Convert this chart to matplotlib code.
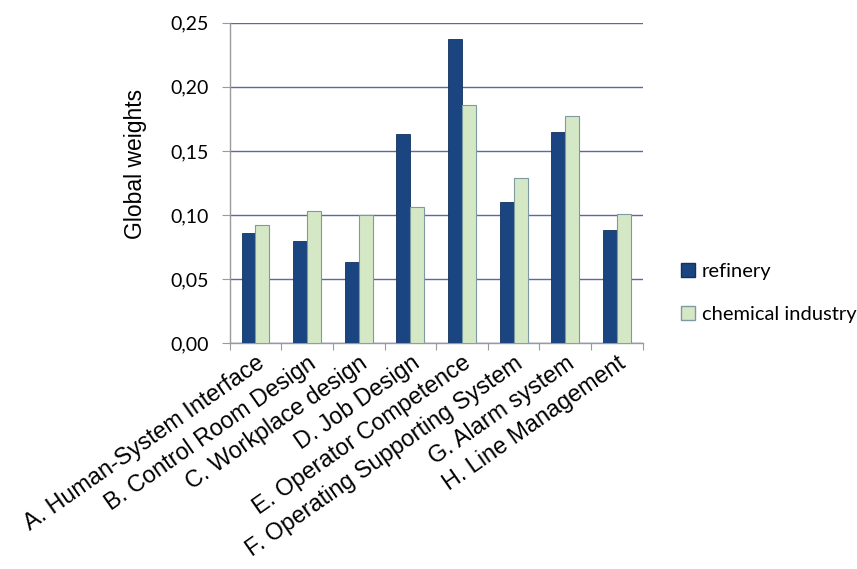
import matplotlib
matplotlib.use("Agg")
import matplotlib.pyplot as plt
import numpy as np
from matplotlib.patches import Patch

categories = [
    "A. Human-System Interface",
    "B. Control Room Design",
    "C. Workplace design",
    "D. Job Design",
    "E. Operator Competence",
    "F. Operating Supporting System",
    "G. Alarm system",
    "H. Line Management",
]
refinery = [0.086, 0.080, 0.063, 0.163, 0.237, 0.110, 0.165, 0.088]
chemical = [0.092, 0.103, 0.100, 0.106, 0.186, 0.129, 0.177, 0.101]
series_names = ["refinery", "chemical industry"]
yticks = [0.00, 0.05, 0.10, 0.15, 0.20, 0.25]

dark = "#1b4580"
light = "#d5e8c6"
light_edge = "#7d9aa0"
grid_col = "#5a6a9a"
axis_col = "#9a9a9a"

plt.rcParams["font.family"] = ["Liberation Sans", "DejaVu Sans"]
calibri_like = ["Lato", "DejaVu Sans"]

fig = plt.figure(figsize=(8.57, 5.69), dpi=100)
ax = fig.add_axes([0.268, 0.397, 0.482, 0.563])

x = np.arange(len(categories))
w = 0.27
ax.bar(x - w / 2, refinery, w, color=dark, edgecolor="#123160", linewidth=0.6, zorder=3)
ax.bar(x + w / 2, chemical, w, color=light, edgecolor=light_edge, linewidth=0.8, zorder=3)

ax.set_xlim(-0.5, len(categories) - 0.5)
ax.set_ylim(0, 0.25)
ax.set_yticks(yticks)
ax.set_yticklabels([f"{v:.2f}".replace(".", ",") for v in yticks],
                   fontsize=14, family=calibri_like)
ax.yaxis.grid(True, color=grid_col, linewidth=1.0, zorder=0)
ax.set_axisbelow(True)

ax.set_xticks(np.arange(len(categories) + 1) - 0.5, minor=False)
ax.set_xticklabels([])
ax.set_xticks(x, minor=True)
ax.set_xticklabels(categories, minor=True, rotation=35, ha="right",
                   rotation_mode="anchor", fontsize=16.8)
ax.tick_params(axis="x", which="minor", length=0, pad=6)
ax.tick_params(axis="x", which="major", length=5, color=axis_col, direction="out")
ax.tick_params(axis="y", length=6, color=axis_col, direction="out", pad=9)

for s in ["top", "right"]:
    ax.spines[s].set_visible(False)
for s in ["left", "bottom"]:
    ax.spines[s].set_color(axis_col)
    ax.spines[s].set_linewidth(1.0)

ax.set_ylabel("Global weights", fontsize=16.5)
ax.yaxis.set_label_coords(-0.2, 0.56)

handles = [Patch(facecolor=dark, edgecolor="#123160"),
           Patch(facecolor=light, edgecolor=light_edge)]
fig.legend(handles, series_names, loc="center left", bbox_to_anchor=(0.774, 0.485),
           frameon=False, prop={"family": calibri_like, "size": 14.5},
           handlelength=0.65, handleheight=0.65, handletextpad=0.35, labelspacing=1.3)

fig.savefig("out.png", dpi=100)
